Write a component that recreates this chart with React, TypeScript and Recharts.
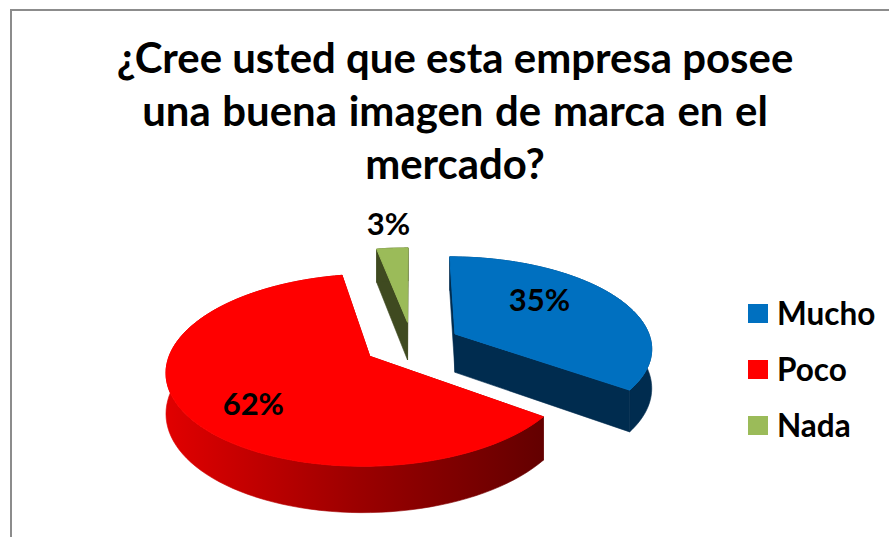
import { Legend, Pie, PieChart } from "recharts";

const categories = ["Mucho", "Poco", "Nada"];
const shares = [35, 62, 3];
const topColors = ["#0070c0", "#ff0000", "#9bbb59"];
const wallColors = ["#002c4f", "url(#redWall)", "#3f4a20"];
const titleLines = ["¿Cree usted que esta empresa posee", "una buena imagen de marca en el", "mercado?"];
const titleWordSpacing = [0, 1.5, 0];

const rows = categories.map((name, i) => ({ name, value: shares[i], fill: topColors[i], wall: wallColors[i] }));

const FONT = "Lato, 'Open Sans', sans-serif";
const EXPLODE = 49;
const TILT = 0.46;
const PERSPECTIVE = 0.000716;
const DEPTH = 39;
const RAD = Math.PI / 180;

// label nudges in screen px, same order as categories
const labelNudge = [
  { dx: -17, dy: -11 },
  { dx: -4, dy: 14 },
  { dx: 0, dy: -6 },
];

function project(cx: number, cy: number, wx: number, wy: number, drop = 0) {
  const w = 1 + PERSPECTIVE * wy;
  return { x: cx + wx / w, y: cy - (TILT * wy) / w + (drop * DEPTH) / w };
}

function slicePoint(p: any, angle: number, radius: number, drop = 0) {
  const ox = EXPLODE * Math.cos(p.midAngle * RAD);
  const oy = EXPLODE * Math.sin(p.midAngle * RAD);
  return project(p.cx, p.cy, ox + radius * Math.cos(angle * RAD), oy + radius * Math.sin(angle * RAD), drop);
}

function toPath(points: { x: number; y: number }[]) {
  return points.map((pt, i) => `${i ? "L" : "M"}${pt.x.toFixed(2)} ${pt.y.toFixed(2)}`).join(" ") + " Z";
}

function Slice3D(props: any) {
  const { startAngle, endAngle, outerRadius: r, fill, payload } = props;
  const steps = 90;
  const arc: number[] = [];
  for (let i = 0; i <= steps; i++) arc.push(startAngle + ((endAngle - startAngle) * i) / steps);
  const top = arc.map((a) => slicePoint(props, a, r));
  const bottom = arc.map((a) => slicePoint(props, a, r, 1));
  const apex = slicePoint(props, 0, 0);
  const apexLow = slicePoint(props, 0, 0, 1);
  const wall = payload?.wall ?? props.wall;
  const startFace = [apex, top[0], bottom[0], apexLow];
  const endFace = [apex, top[steps], bottom[steps], apexLow];
  return (
    <g>
      <path d={toPath(startFace)} fill={wall} stroke={wall} strokeWidth={0.6} />
      <path d={toPath(endFace)} fill={wall} stroke={wall} strokeWidth={0.6} />
      <path d={toPath([...top, ...[...bottom].reverse()])} fill={wall} stroke={wall} strokeWidth={0.6} />
      {/* top face stroked in its own colour so the wall seam does not show round it */}
      <path d={toPath([apex, ...top])} fill={fill} stroke={fill} strokeWidth={1} />
    </g>
  );
}

function SliceLabel(props: any) {
  const { outerRadius: r, midAngle, index, percent } = props;
  const ratio = index === 2 ? 1.3 : 0.62;
  const pt = slicePoint({ ...props, midAngle }, midAngle, r * ratio);
  const nudge = labelNudge[index];
  return (
    <text x={pt.x + nudge.dx} y={pt.y + nudge.dy} textAnchor="middle" dominantBaseline="central" fontFamily={FONT} fontWeight={700} fontSize={31} fill="#000">
      {`${Math.round(percent * 100)}%`}
    </text>
  );
}

function LegendList({ payload }: any) {
  return (
    <div>
      {(payload ?? []).map((entry: any) => (
        <div key={entry.value} style={{ display: "flex", alignItems: "center", height: 56, fontFamily: FONT, fontWeight: 700, fontSize: 31.5, color: "#000" }}>
          <span style={{ width: 20, height: 19, marginRight: 9, background: entry.color }} />
          {entry.value}
        </div>
      ))}
    </div>
  );
}

export default function App() {
  return (
    <div style={{ position: "absolute", left: 0, top: 0, width: 889, height: 537, overflow: "hidden", background: "#fff" }}>
      <div style={{ position: "absolute", left: 10, top: 9, width: 900, height: 560, border: "2px solid #8c8c8c" }} />
      <PieChart width={889} height={537} margin={{ top: 0, right: 0, bottom: 0, left: 0 }} style={{ position: "absolute", left: 0, top: 0 }}>
        <defs>
          <linearGradient id="redWall" gradientUnits="userSpaceOnUse" x1="168" y1="0" x2="544" y2="0">
            <stop offset="0%" stopColor="#e00000" />
            <stop offset="50%" stopColor="#9c0000" />
            <stop offset="100%" stopColor="#630000" />
          </linearGradient>
        </defs>
        <text textAnchor="middle" fontFamily={FONT} fontWeight={700} fontSize={41.9} fill="#000">
          {titleLines.map((line, i) => (
            <tspan key={line} x={455} y={73 + i * 53} wordSpacing={titleWordSpacing[i]}>
              {line}
            </tspan>
          ))}
        </text>
        <Pie
          data={rows}
          dataKey="value"
          nameKey="name"
          cx={412}
          cy={344}
          outerRadius={197}
          startAngle={90}
          endAngle={-270}
          stroke="none"
          shape={Slice3D}
          label={SliceLabel}
          labelLine={false}
          isAnimationActive={false}
        />
        <Legend content={LegendList} itemSorter={null} layout="vertical" align="right" verticalAlign="top" wrapperStyle={{ position: "absolute", left: 748, top: 285, width: 140, right: "auto" }} />
      </PieChart>
    </div>
  );
}
